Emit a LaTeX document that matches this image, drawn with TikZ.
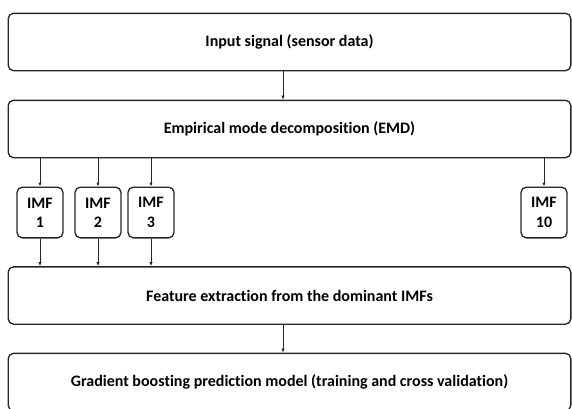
\documentclass[tikz,border=0pt]{standalone}
\usepackage{fontspec}
\setmainfont[Ligatures=NoCommon]{Carlito}
\usetikzlibrary{arrows.meta,positioning}
\tikzset{
    stagebox/.style={
        draw=black!85,
        line width=1pt,
        rounded corners=4pt,
        minimum width=422pt,
        minimum height=43pt,
        inner sep=0pt,
        font=\bfseries\fontsize{12}{14}\selectfont
    },
    imfbox/.style={
        draw=black!85,
        line width=1pt,
        rounded corners=4pt,
        minimum width=34.5pt,
        minimum height=38pt,
        inner sep=0pt,
        align=center,
        font=\bfseries\fontsize{12}{14.5}\selectfont
    },
    flow/.style={
        draw=black!85,
        line width=0.6pt,
        -{Latex[length=3pt,width=2.5pt]}
    }
}
\begin{document}
\begin{tikzpicture}[x=0.75pt,y=-0.75pt]
    \useasboundingbox (0,0) rectangle (572,408);
    % main stages
    \node[stagebox] (input) at (289.5,42) {Input signal (sensor data)};
    \node[stagebox] (emd) at (289.5,129) {Empirical mode decomposition (EMD)};
    \node[stagebox] (feat) at (289.5,295.5) {Feature extraction from the dominant IMFs};
    \node[stagebox] (gbm) at (289.5,382) {Gradient boosting prediction model (training and cross validation)};
    % intrinsic mode functions
    \node[imfbox] (imf1) at (40,212.5) {IMF\\1};
    \node[imfbox] (imf2) at (98,212.5) {IMF\\2};
    \node[imfbox] (imf3) at (151,212.5) {IMF\\3};
    \node[imfbox] (imf10) at (544,212.5) {IMF\\10};
    % connectors
    \draw[flow] (input.south -| 283,0) -- (emd.north -| 283,0);
    \foreach \k in {1,2,3,10} {
        \draw[flow] (emd.south -| imf\k.north) -- (imf\k.north);
    }
    \foreach \k in {1,2,3} {
        \draw[flow] (imf\k.south) -- (feat.north -| imf\k.south);
    }
    \draw[flow] (feat.south -| 283,0) -- (gbm.north -| 283,0);
\end{tikzpicture}
\end{document}
